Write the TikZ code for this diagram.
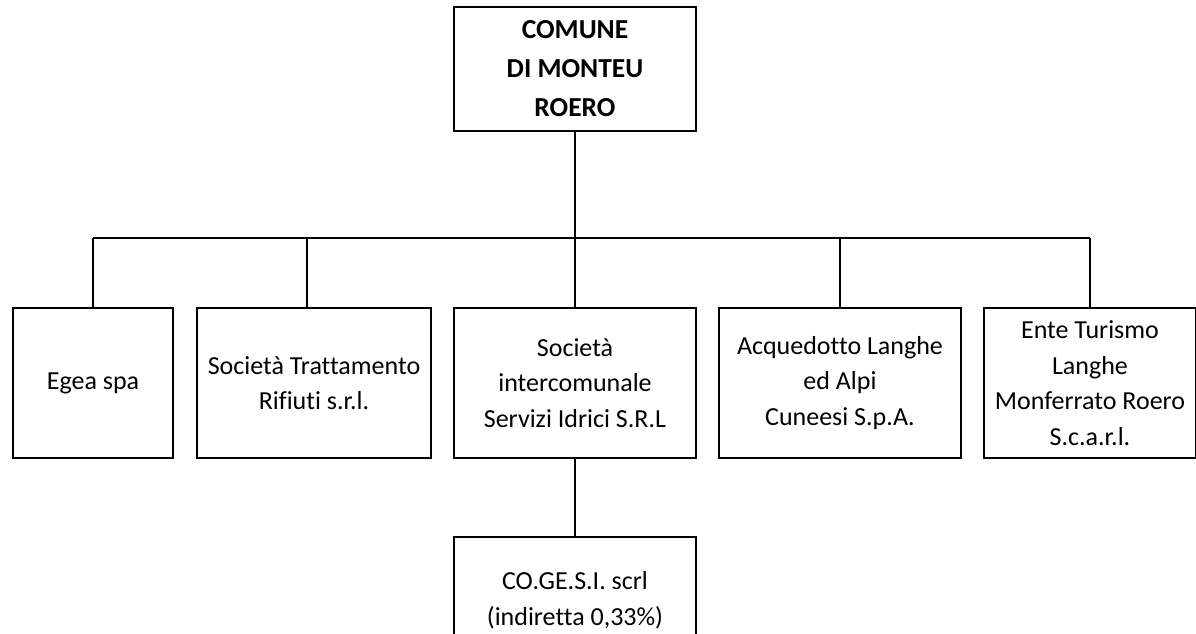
\documentclass[tikz,border=0pt]{standalone}
\usepackage{fontspec}
\setmainfont{Carlito}[Ligatures=NoCommon]
\usetikzlibrary{positioning}

\tikzset{
  entity/.style={draw, rectangle, line width=1.9pt, align=center, inner sep=0pt,
    minimum height=150pt, font=\fontsize{26}{35.5}\selectfont},
  wire/.style={line width=1.9pt},
}

\begin{document}
\begin{tikzpicture}[x=1pt, y=-1pt]

  \useasboundingbox (0,0) rectangle (1196,634);

  % === Comune ===
  \node[entity, minimum width=242pt, minimum height=124pt,
    font=\bfseries\fontsize{27.5}{39}\selectfont] (comune) at (575,69)
    {COMUNE\\DI MONTEU\\ROERO};

  % === Partecipazioni dirette ===
  \node[entity, minimum width=160pt] (egea) at (93,383) {Egea spa};
  \node[entity, minimum width=234pt] (trattamento) at (314,383)
    {Società Trattamento\\Rifiuti s.r.l.};
  \node[entity, minimum width=242pt] (intercomunale) at (575,383)
    {Società\\intercomunale\\Servizi Idrici S.R.L};
  \node[entity, minimum width=242pt] (acquedotto) at (840,383)
    {Acquedotto Langhe\\ed Alpi\\Cuneesi S.p.A.};
  \node[entity, minimum width=212pt] (turismo) at (1090,383)
    {Ente Turismo\\Langhe\\Monferrato Roero\\S.c.a.r.l.};

  % === Partecipazione indiretta ===
  \node[entity, minimum width=242pt, minimum height=127pt] (cogesi) at (575,600.5)
    {CO.GE.S.I. scrl\\(indiretta 0,33\%)};

  % === Collegamenti ===
  \coordinate (bus) at (0,238);
  \coordinate (trattamento top) at ([xshift=-7pt]trattamento.north);
  \draw[wire] (comune.south) -- (comune.south |- bus);
  \draw[wire] (egea.north |- bus) -- (turismo.north |- bus);
  \foreach \n in {egea.north,trattamento top,intercomunale.north,acquedotto.north,turismo.north} {
    \draw[wire] (\n) -- (\n |- bus);
  }
  \draw[wire] (intercomunale.south) -- (cogesi.north);

\end{tikzpicture}
\end{document}
